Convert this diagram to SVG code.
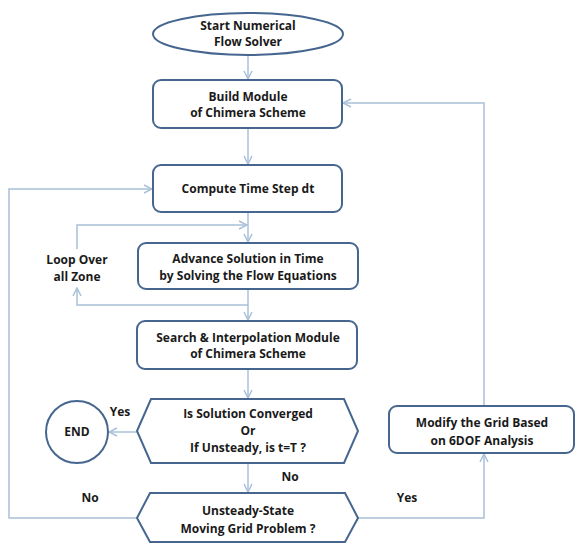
<svg xmlns="http://www.w3.org/2000/svg" width="576" height="544" viewBox="0 0 576 544">
<defs>
<style>
.n{fill:#fff;stroke:#46668f;stroke-width:2}
.c{fill:none;stroke:#a9c0d8;stroke-width:1.5}
.t{font-family:"Open Sans","Noto Sans",sans-serif;font-weight:bold;font-size:12px;fill:#1a1a1a;text-anchor:middle}
</style>
<marker id="a" viewBox="0 0 10 10" refX="9" refY="5" markerWidth="10" markerHeight="10" markerUnits="userSpaceOnUse" orient="auto">
<polyline points="1,1 9,5 1,9" fill="none" stroke="#a9c0d8" stroke-width="1.5"/>
</marker>
</defs>
<rect width="576" height="544" fill="#fff"/>
<g id="connectors">
<line class="c" x1="248" y1="55" x2="248" y2="79" marker-end="url(#a)"/>
<line class="c" x1="248" y1="128" x2="248" y2="164" marker-end="url(#a)"/>
<line class="c" x1="248" y1="212" x2="248" y2="242" marker-end="url(#a)"/>
<polyline class="c" points="77,249 77,225 247,225" marker-end="url(#a)"/>
<line class="c" x1="248" y1="289" x2="248" y2="320" marker-end="url(#a)"/>
<polyline class="c" points="248,305 77,305 77,288" marker-end="url(#a)"/>
<line class="c" x1="248" y1="369" x2="248" y2="398" marker-end="url(#a)"/>
<line class="c" x1="137" y1="432" x2="109" y2="432" marker-end="url(#a)"/>
<line class="c" x1="248" y1="463" x2="248" y2="492" marker-end="url(#a)"/>
<polyline class="c" points="137,518 9,518 9,189 152,189" marker-end="url(#a)"/>
<polyline class="c" points="358,518 484,518 484,454" marker-end="url(#a)"/>
<polyline class="c" points="484,406 484,103 343,103" marker-end="url(#a)"/>
<text class="t" x="77" y="264">Loop Over</text>
<text class="t" x="77" y="281">all Zone</text>
<text class="t" x="120" y="416">Yes</text>
<text class="t" x="290" y="481">No</text>
<text class="t" x="90" y="502">No</text>
<text class="t" x="407" y="502">Yes</text>
</g>
<g id="start">
<ellipse class="n" cx="248" cy="34" rx="95" ry="21"/>
<text class="t" x="248" y="30">Start Numerical</text>
<text class="t" x="248" y="46">Flow Solver</text>
</g>
<g id="build">
<rect class="n" x="153" y="80" width="189" height="48" rx="8"/>
<text class="t" x="248" y="101">Build Module</text>
<text class="t" x="248" y="117">of Chimera Scheme</text>
</g>
<g id="compute">
<rect class="n" x="153" y="165" width="189" height="47" rx="8"/>
<text class="t" x="248" y="193">Compute Time Step dt</text>
</g>
<g id="advance">
<rect class="n" x="138" y="243" width="220" height="46" rx="8"/>
<text class="t" x="248" y="263">Advance Solution in Time</text>
<text class="t" x="248" y="280">by Solving the Flow Equations</text>
</g>
<g id="search">
<rect class="n" x="137" y="321" width="220" height="48" rx="8"/>
<text class="t" x="248" y="342">Search &amp; Interpolation Module</text>
<text class="t" x="248" y="358">of Chimera Scheme</text>
</g>
<g id="converged">
<polygon class="n" points="137,431 151,399 344,399 358,431 344,463 151,463"/>
<text class="t" x="248" y="418">Is Solution Converged</text>
<text class="t" x="248" y="435">Or</text>
<text class="t" x="248" y="452">If Unsteady, is t=T ?</text>
</g>
<g id="end">
<circle class="n" cx="77" cy="432" r="31"/>
<text class="t" x="77" y="436">END</text>
</g>
<g id="moving">
<polygon class="n" points="137,518 150,493 345,493 358,518 345,542 150,542"/>
<text class="t" x="248" y="515">Unsteady-State</text>
<text class="t" x="248" y="533">Moving Grid Problem ?</text>
</g>
<g id="modify">
<rect class="n" x="389" y="406" width="185" height="47" rx="8"/>
<text class="t" x="482" y="427">Modify the Grid Based</text>
<text class="t" x="482" y="445">on 6DOF Analysis</text>
</g>
</svg>
